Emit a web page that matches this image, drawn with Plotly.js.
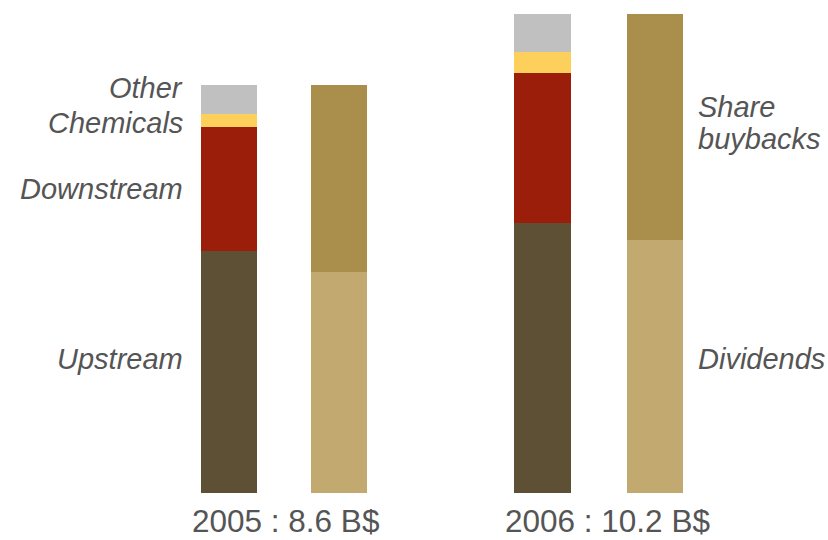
<!DOCTYPE html>
<html>
<head>
<meta charset="utf-8">
<script src="https://cdn.plot.ly/plotly-3.0.1.min.js"></script>
<style>html,body{margin:0;padding:0;background:#fff;}#chart{width:828px;height:540px;}</style>
</head>
<body>
<div id="chart"></div>
<script>
// Positions of the four columns on a numeric x axis
const barX = [0, 1, 2.85, 3.87];
const years = ["2005", "2006"];
const totals = ["8.6", "10.2"];

// Sources of cash (billion $)
const upstream = [5.12, 5.71];
const downstream = [2.62, 3.18];
const chemicals = [0.28, 0.44];
const other = [0.61, 0.80];

// Uses of cash (billion $)
const dividends = [4.67, 5.35];
const buybacks = [3.97, 4.78];

const srcX = [barX[0], barX[2]];
const useX = [barX[1], barX[3]];
const W = 0.51;

function bar(x, y, color, name) {
  return {type: 'bar', x: x, y: y, width: W, name: name,
          marker: {color: color, line: {width: 0}}, hoverinfo: 'skip'};
}

const data = [
  bar(srcX, upstream, '#5E5035', 'Upstream'),
  bar(srcX, downstream, '#9B1E0A', 'Downstream'),
  bar(srcX, chemicals, '#FCD05A', 'Chemicals'),
  bar(srcX, other, '#C0C0C0', 'Other'),
  bar(useX, dividends, '#C2A96F', 'Dividends'),
  bar(useX, buybacks, '#A98E4C', 'Share buybacks')
];

const txt = '#555555';
const fam = 'Liberation Sans, Arial, sans-serif';
function lab(text, x, y, anchor, size, italic, yanchor) {
  return {text: text, x: x, y: y, xref: 'paper', yref: 'paper',
          xanchor: anchor, yanchor: yanchor || 'middle', showarrow: false, borderpad: 0,
          font: {family: fam, size: size, color: txt, style: italic ? 'italic' : 'normal'}};
}
// paper coordinates from pixel positions
const px = v => v / 828, py = v => 1 - v / 540;

const annotations = [
  lab('Other', px(184), py(88), 'right', 29, true),
  lab('Chemicals', px(184), py(123), 'right', 29, true),
  lab('Downstream', px(184), py(189), 'right', 29, true),
  lab('Upstream', px(184), py(359), 'right', 29, true),
  lab('Share', px(697), py(107), 'left', 29, true),
  lab('buybacks', px(697), py(139), 'left', 29, true),
  lab('Dividends', px(697), py(359), 'left', 29, true),
  lab(years[0] + ' : ' + totals[0] + ' B$', px(286), 0, 'center', 31.5, false, 'bottom'),
  lab(years[1] + ' : ' + totals[1] + ' B$', px(607), 0, 'center', 31.5, false, 'bottom')
];

const layout = {
  width: 828, height: 540,
  margin: {l: 0, r: 0, t: 0, b: 0, pad: 0},
  paper_bgcolor: '#ffffff', plot_bgcolor: '#ffffff',
  barmode: 'stack', showlegend: false,
  xaxis: {range: [-229 / 110, (828 - 229) / 110], visible: false, fixedrange: true},
  yaxis: {range: [-47 / 47.25, 493 / 47.25], visible: false, fixedrange: true},
  annotations: annotations
};

Plotly.newPlot('chart', data, layout, {displayModeBar: false, staticPlot: true});
</script>
</body>
</html>
